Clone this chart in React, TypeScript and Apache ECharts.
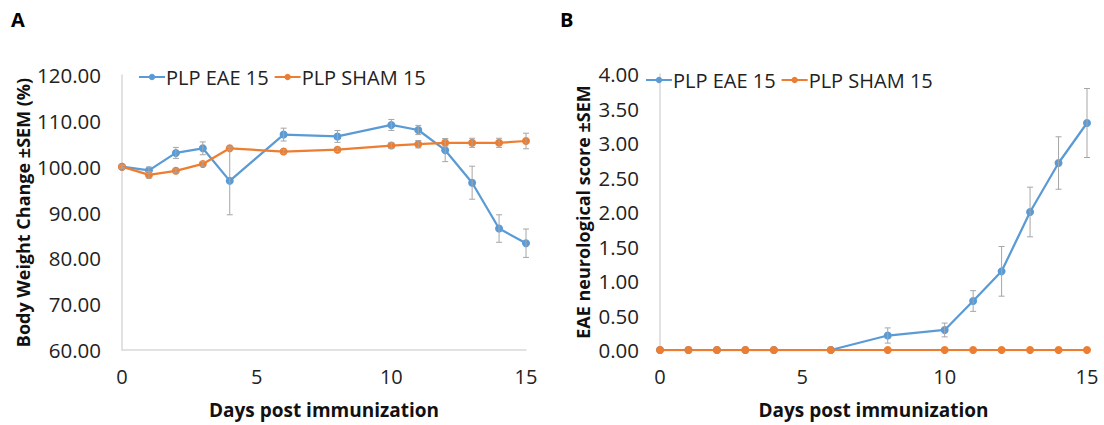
import React, { useEffect, useRef } from "react";
import * as echarts from "echarts";

const days = [0, 1, 2, 3, 4, 6, 8, 10, 11, 12, 13, 14, 15];
const eaeWeight = [100.0, 99.2, 103.0, 104.0, 96.9, 107.0, 106.6, 109.1, 108.0, 103.6, 96.5, 86.5, 83.3];
const eaeWeightSem = [0.3, 0.7, 1.2, 1.4, 7.4, 1.4, 1.3, 1.2, 1.0, 2.5, 3.6, 3.0, 3.1];
const shamWeight = [100.0, 98.2, 99.1, 100.6, 104.0, 103.3, 103.7, 104.6, 104.9, 105.2, 105.2, 105.2, 105.6];
const shamWeightSem = [0.3, 0.7, 0.4, 0.5, 0.3, 0.4, 0.4, 0.6, 0.8, 0.9, 1.0, 1.0, 1.7];
const eaeScore = [0, 0, 0, 0, 0, 0, 0.21, 0.29, 0.71, 1.14, 2.0, 2.71, 3.29];
const eaeScoreSem = [0, 0, 0, 0, 0, 0, 0.11, 0.1, 0.15, 0.36, 0.36, 0.38, 0.5];
const shamScore = [0, 0, 0, 0, 0, 0, 0, 0, 0, 0, 0, 0, 0];
const seriesNames = ["PLP EAE 15", "PLP SHAM 15"];
const xTitle = "Days post immunization";
const yTitleA = "Body Weight Change ±SEM (%)";
const yTitleB = "EAE neurological score ±SEM";

const BLUE = "#5B9BD5";
const ORANGE = "#ED7D31";
const FONT = "'Open Sans', sans-serif";

const pts = (vals: number[]) => days.map((d, i) => [d, vals[i]]);
const errs = (vals: number[], sem: number[]) =>
  days
    .map((d, i) => [d, vals[i] - sem[i], vals[i] + sem[i]])
    .filter((_, i) => sem[i] > 0);

const errRender = (params: any, api: any) => {
  const x = api.value(0);
  const lo = api.coord([x, api.value(1)]);
  const hi = api.coord([x, api.value(2)]);
  const cw = 3;
  const st = { stroke: "#a6a6a6", lineWidth: 1 };
  return {
    type: "group",
    children: [
      { type: "line", shape: { x1: lo[0], y1: lo[1], x2: hi[0], y2: hi[1] }, style: st },
      { type: "line", shape: { x1: lo[0] - cw, y1: lo[1], x2: lo[0] + cw, y2: lo[1] }, style: st },
      { type: "line", shape: { x1: hi[0] - cw, y1: hi[1], x2: hi[0] + cw, y2: hi[1] }, style: st },
    ],
  };
};

export default function App() {
  const ref = useRef<HTMLDivElement>(null);
  useEffect(() => {
    if (!ref.current) return;
    const chart = echarts.init(ref.current, null, { renderer: "svg" });
    const axisLine = { show: true, lineStyle: { color: "#d9d9d9", width: 1.5 } };
    const xAxis = (gi: number) => ({
      type: "value",
      gridIndex: gi,
      min: 0,
      max: 15,
      interval: 5,
      axisLine,
      axisTick: { show: false },
      splitLine: { show: false },
      axisLabel: { color: "#222", fontSize: 20, fontFamily: FONT, margin: 16 },
      name: xTitle,
      nameLocation: "middle",
      nameGap: 50,
      nameTextStyle: { color: "#111", fontSize: 19, fontWeight: "bold", fontFamily: FONT },
    });
    const yLabel = { color: "#222", fontSize: 20.5, fontFamily: FONT, margin: 21, formatter: (v: number) => v.toFixed(2) };
    const lineSeries = (name: string, data: number[][], color: string, xi: number) => ({
      type: "line",
      name,
      xAxisIndex: xi,
      yAxisIndex: xi,
      data,
      symbol: "circle",
      symbolSize: 8,
      lineStyle: { color, width: 2.25 },
      itemStyle: { color },
      z: 3,
    });
    const errSeries = (data: number[][], xi: number) => ({
      type: "custom",
      xAxisIndex: xi,
      yAxisIndex: xi,
      data,
      renderItem: errRender,
      encode: { x: 0, y: [1, 2] },
      z: 4,
      silent: true,
    });
    const legendCommon = {
      data: seriesNames,
      itemWidth: 26,
      itemHeight: 8,
      itemGap: 5,
      textStyle: { color: "#222", fontSize: 20, fontFamily: FONT, padding: [0, 0, 0, -4] },
    };
    chart.setOption({
      animation: false,
      backgroundColor: "#fff",
      grid: [
        { left: 122, top: 75, width: 404, height: 275 },
        { left: 660, top: 74, width: 427, height: 276 },
      ],
      xAxis: [xAxis(0), xAxis(1)],
      yAxis: [
        {
          type: "value",
          gridIndex: 0,
          min: 60,
          max: 120,
          interval: 10,
          axisLine,
          axisTick: { show: false },
          splitLine: { show: false },
          axisLabel: yLabel,
          name: yTitleA,
          nameLocation: "middle",
          nameGap: 90,
          nameTextStyle: { color: "#111", fontSize: 18, fontWeight: "bold", fontFamily: FONT },
        },
        {
          type: "value",
          gridIndex: 1,
          min: 0,
          max: 4,
          interval: 0.5,
          axisLine,
          axisTick: { show: false },
          splitLine: { show: false },
          axisLabel: yLabel,
          name: yTitleB,
          nameLocation: "middle",
          nameGap: 68,
          nameTextStyle: { color: "#111", fontSize: 18, fontWeight: "bold", fontFamily: FONT },
        },
      ],
      legend: [
        { ...legendCommon, left: 133, top: 62 },
        { ...legendCommon, left: 640, top: 65 },
      ],
      graphic: [
        { type: "text", left: 11, top: 9, style: { text: "A", fontSize: 20, fontWeight: "bold", fontFamily: FONT, fill: "#000" } },
        { type: "text", left: 560, top: 9, style: { text: "B", fontSize: 20, fontWeight: "bold", fontFamily: FONT, fill: "#000" } },
      ],
      series: [
        lineSeries(seriesNames[0], pts(eaeWeight), BLUE, 0),
        lineSeries(seriesNames[1], pts(shamWeight), ORANGE, 0),
        errSeries(errs(eaeWeight, eaeWeightSem), 0),
        errSeries(errs(shamWeight, shamWeightSem), 0),
        lineSeries(seriesNames[0], pts(eaeScore), BLUE, 1),
        lineSeries(seriesNames[1], pts(shamScore), ORANGE, 1),
        errSeries(errs(eaeScore, eaeScoreSem), 1),
      ],
    });
    return () => chart.dispose();
  }, []);
  return <div ref={ref} style={{ position: "fixed", left: 0, top: 0, width: 1104, height: 425, background: "#fff" }} />;
}
